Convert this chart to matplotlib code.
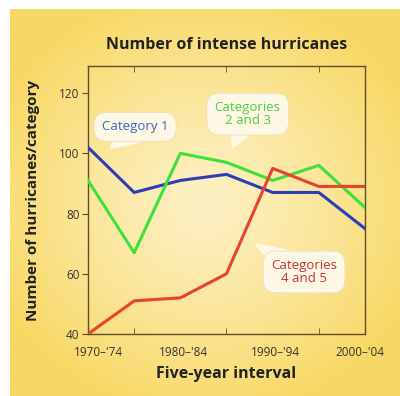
import numpy as np
import matplotlib
matplotlib.use('Agg')
import matplotlib.pyplot as plt
from matplotlib.transforms import ScaledTranslation

plt.rcParams['font.family'] = ['Open Sans', 'DejaVu Sans']

years = [1970, 1975, 1980, 1985, 1990, 1995, 2000]
cat1 = [102, 87, 91, 93, 87, 87, 75]
cat23 = [91, 67, 100, 97, 91, 96, 82]
cat45 = [40, 51, 52, 60, 95, 89, 89]

tick_years = [1970, 1980, 1990, 2000]
tick_labels = ["1970\u2013'74", "1980\u2013'84", "1990\u2013'94", "2000\u2013'04"]
y_ticks = [40, 60, 80, 100, 120]

BLUE = "#2d3db4"
GREEN = "#3fe03a"
RED = "#e8432c"
INK = "#222222"

fig = plt.figure(figsize=(4, 3.96), dpi=100)
fig.patch.set_facecolor("white")

# yellow panel, lighter in the middle
bg = fig.add_axes([10 / 400, 0, 1 - 10 / 400, 1 - 9 / 396])
gx, gy = np.meshgrid(np.linspace(-1, 1, 200), np.linspace(-1, 1, 200))
r = np.clip(np.sqrt((gx * 0.85) ** 2 + (gy * 0.9) ** 2), 0, 1)
c0 = np.array([253, 240, 195]) / 255
c1 = np.array([248, 216, 100]) / 255
img = c0 + (c1 - c0) * (r[..., None] ** 1.3)
bg.imshow(img, aspect="auto", extent=[0, 1, 0, 1])
bg.axis("off")

ax = fig.add_axes([88 / 400, 1 - 334 / 396, 277 / 400, 268 / 396])
ax.patch.set_alpha(0)

ax.plot(years, cat1, color=BLUE, lw=2.2, zorder=3)
ax.plot(years, cat23, color=GREEN, lw=2.2, zorder=3)
ax.plot(years, cat45, color=RED, lw=2.2, zorder=4)

ax.set_xlim(1970, 2000)
ax.set_ylim(40, 129)
for s in ax.spines.values():
    s.set_color("#5e4f2a")
    s.set_linewidth(1.0)

ax.set_yticks(y_ticks)
ax.tick_params(axis="y", direction="out", length=4, color="#5e4f2a",
               labelsize=8.5, labelcolor="#333333", pad=2)
ax.set_xticks(tick_years)
ax.set_xticklabels(tick_labels)
ax.set_xticks([1975, 1980, 1985, 1990, 1995], minor=True)
ax.tick_params(axis="x", which="major", length=0, labelsize=8.5,
               labelcolor="#333333", pad=9)
ax.tick_params(axis="x", which="minor", direction="in", length=4,
               color="#5e4f2a", top=True, bottom=True)

# nudge first and last interval labels
shifts = [10, 3, 3, -5]
for lab, dx in zip(ax.get_xticklabels(), shifts):
    lab.set_transform(lab.get_transform() + ScaledTranslation(dx / 100, 0, fig.dpi_scale_trans))

ax.set_xlabel("Five-year interval", fontsize=11.5, fontweight="bold",
              color=INK, labelpad=5)
ax.set_ylabel("Number of hurricanes/category", fontsize=11, fontweight="bold",
              color=INK, labelpad=14)
ax.set_title("Number of intense hurricanes", fontsize=11.5, fontweight="bold",
             color=INK, pad=12)

box = dict(boxstyle="round,pad=0.6,rounding_size=1.0", fc="#fdf8e6", ec="#eadfb6", lw=0.6)
wedge = dict(arrowstyle="wedge,tail_width=2.6,shrink_factor=0.6", fc="#fdf8e6",
             ec="none", shrinkA=0, shrinkB=0, patchA=None)

ax.annotate("Category 1", xy=(1972.4, 101.5), xytext=(1975.1, 108.8), fontsize=9.5,
            color="#3a63c4", ha="center", va="center", bbox=box,
            arrowprops=wedge, zorder=5)
ax.annotate("Categories\n2 and 3", xy=(1985.6, 101.5), xytext=(1987.3, 113), fontsize=9.5,
            color="#4ccf3c", ha="center", va="center", bbox=box, linespacing=1.0,
            arrowprops=wedge, zorder=5)
ax.annotate("Categories\n4 and 5", xy=(1988.0, 70), xytext=(1993.4, 60.6), fontsize=9.5,
            color="#c8322c", ha="center", va="center", bbox=box, linespacing=1.0,
            arrowprops=wedge, zorder=5)

fig.savefig("out.png", dpi=100)
